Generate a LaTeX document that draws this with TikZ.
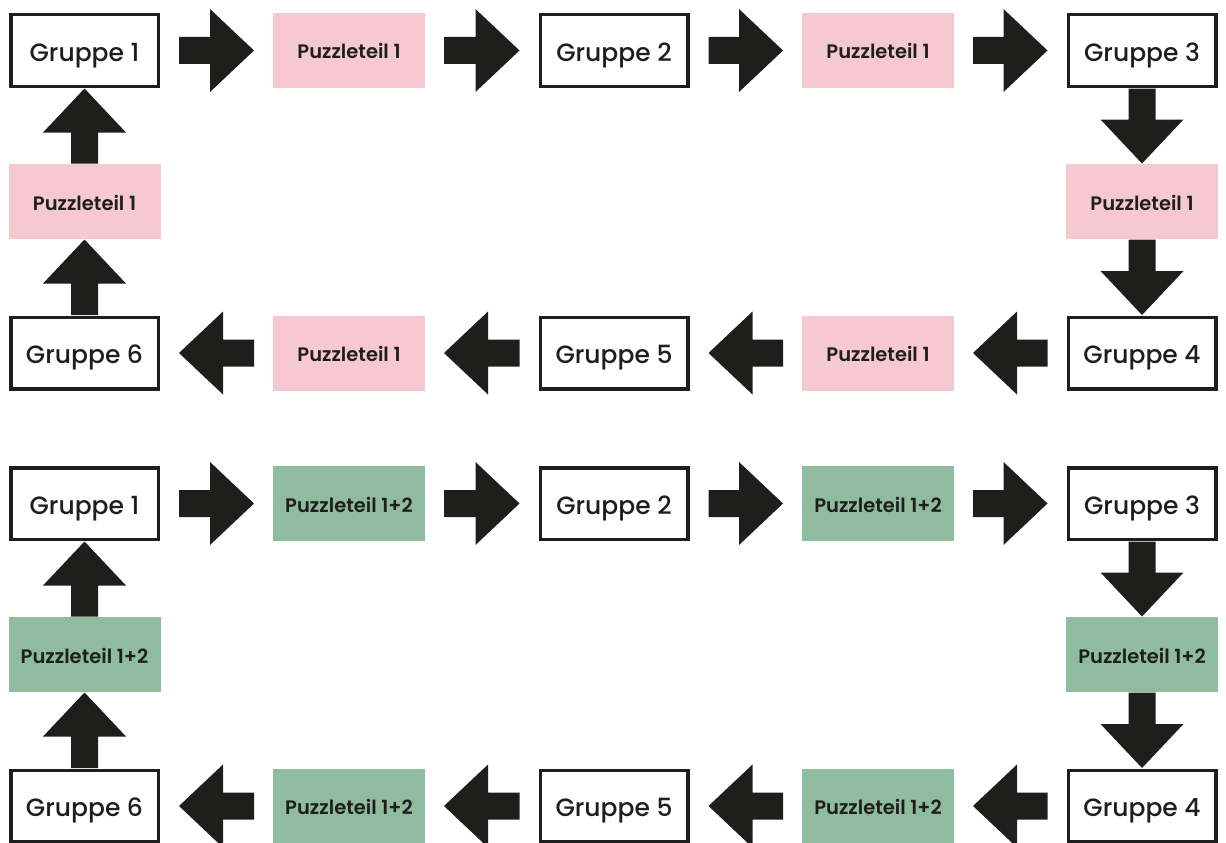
\documentclass[tikz,border=0pt]{standalone}
\usepackage{fontspec}
\setmainfont{Poppins}
\newfontfamily\gfont{Poppins Medium}
\newfontfamily\pfont{Poppins SemiBold}
\usetikzlibrary{calc}
\definecolor{ink}{HTML}{1E1E1C}
\definecolor{pinkfill}{HTML}{F6C8D0}
\definecolor{greenfill}{HTML}{8FBC9E}
\begin{document}
\begin{tikzpicture}[x=1pt,y=-1pt,
  gruppe/.style={draw=ink, line width=3.5pt, fill=white, minimum width=147.5pt, minimum height=71.5pt, inner sep=0pt, text=ink, text height=21.5pt, text depth=0pt, font=\gfont\fontsize{25}{28}\selectfont},
  piece/.style={minimum width=152pt, minimum height=75pt, inner sep=0pt, outer sep=0pt, text=ink, text height=17pt, text depth=0pt, font=\pfont\fontsize{19.5}{22}\selectfont},
  pinkpiece/.style={piece, fill=pinkfill},
  greenpiece/.style={piece, fill=greenfill},
  harrow/.style={fill=ink, to path={let \p1=(\tikztostart), \p2=(\tikztotarget), \n1={sign(\x2-\x1)} in
    ({\x1+19pt*\n1},{\y1-13.5pt}) -- ({\x2-63pt*\n1},{\y1-13.5pt}) -- ({\x2-63pt*\n1},{\y1-41.5pt})
    -- ({\x2-19pt*\n1},{\y1}) -- ({\x2-63pt*\n1},{\y1+41.5pt}) -- ({\x2-63pt*\n1},{\y1+13.5pt})
    -- ({\x1+19pt*\n1},{\y1+13.5pt}) -- cycle}},
  varrow/.style={fill=ink, to path={let \p1=(\tikztostart), \p2=(\tikztotarget), \n1={sign(\y2-\y1)} in
    ({\x1-13.5pt},{\y1+0.5pt*\n1}) -- ({\x1-13.5pt},{\y2-44.5pt*\n1}) -- ({\x1-41.5pt},{\y2-44.5pt*\n1})
    -- ({\x1},{\y2-0.5pt*\n1}) -- ({\x1+41.5pt},{\y2-44.5pt*\n1}) -- ({\x1+13.5pt},{\y2-44.5pt*\n1})
    -- ({\x1+13.5pt},{\y1+0.5pt*\n1}) -- cycle}}
]
\useasboundingbox (0,0) rectangle (1226,843);
\foreach \s/\oy/\col/\txt in {a/0/pinkpiece/Puzzleteil 1, b/453/greenpiece/Puzzleteil 1+2}{
  \node[gruppe] (g1\s) at (84.5,50.5+\oy) {Gruppe 1};
  \node[\col] (p1\s) at (349,50.5+\oy) {\txt};
  \node[gruppe] (g2\s) at (614,50.5+\oy) {Gruppe 2};
  \node[\col] (p2\s) at (878,50.5+\oy) {\txt};
  \node[gruppe] (g3\s) at (1142,50.5+\oy) {Gruppe 3};
  \node[\col] (p3\s) at (1142,201.5+\oy) {\txt};
  \node[gruppe] (g4\s) at (1142,353+\oy) {Gruppe 4};
  \node[\col] (p4\s) at (878,353+\oy) {\txt};
  \node[gruppe] (g5\s) at (614,353+\oy) {Gruppe 5};
  \node[\col] (p5\s) at (349,353+\oy) {\txt};
  \node[gruppe] (g6\s) at (84.5,353+\oy) {Gruppe 6};
  \node[\col] (p6\s) at (84.5,201.5+\oy) {\txt};
  \fill[harrow] (g1\s.east) to (p1\s.west);
  \fill[harrow] (p1\s.east) to (g2\s.west);
  \fill[harrow] (g2\s.east) to (p2\s.west);
  \fill[harrow] (p2\s.east) to (g3\s.west);
  \fill[varrow] (g3\s.south) to (p3\s.north);
  \fill[varrow] (p3\s.south) to (g4\s.north);
  \fill[harrow] (g4\s.west) to (p4\s.east);
  \fill[harrow] (p4\s.west) to (g5\s.east);
  \fill[harrow] (g5\s.west) to (p5\s.east);
  \fill[harrow] (p5\s.west) to (g6\s.east);
  \fill[varrow] (g6\s.north) to (p6\s.south);
  \fill[varrow] (p6\s.north) to (g1\s.south);
}
\end{tikzpicture}
\end{document}
